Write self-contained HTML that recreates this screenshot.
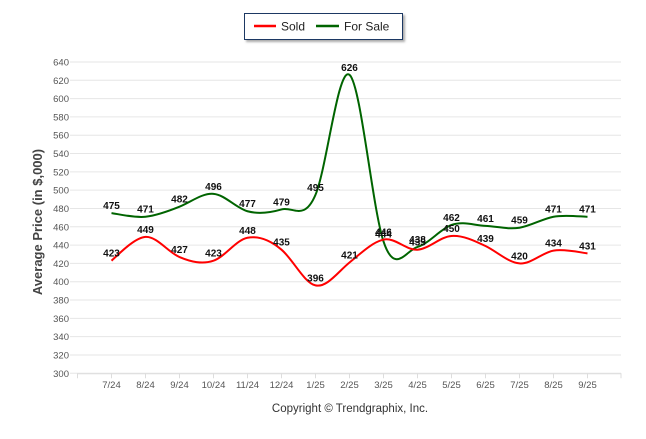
<!DOCTYPE html>
<html><head><meta charset="utf-8"><style>
body{margin:0;background:#fff;font-family:"Liberation Sans",Arial,sans-serif;}
svg text{font-family:"Liberation Sans",Arial,sans-serif;}
</style></head><body>
<svg id="chart" width="646" height="434">
<defs><filter id="sh" x="-10%" y="-10%" width="130%" height="150%"><feDropShadow dx="2" dy="2" stdDeviation="1" flood-color="#888" flood-opacity="0.7"/></filter></defs>
<g>
<rect x="244.5" y="13.5" width="158" height="26" fill="#fff" stroke="#1f3864" stroke-width="1" filter="url(#sh)"/>
<line x1="254" y1="26" x2="276" y2="26" stroke="#ff0000" stroke-width="2.5"/>
<text x="281" y="30.5" font-size="12" fill="#222">Sold</text>
<line x1="316" y1="26" x2="339" y2="26" stroke="#006400" stroke-width="2.5"/>
<text x="344" y="30.5" font-size="12" fill="#222">For Sale</text>
</g>
<text x="0" y="0" transform="translate(42,222) rotate(-90)" text-anchor="middle" font-size="13" font-weight="bold" fill="#444">Average Price (in $,000)</text>
<text x="350" y="412" text-anchor="middle" font-size="11.5" fill="#333">Copyright © Trendgraphix, Inc.</text>
<g id="grid"></g><g id="axes"></g><g id="lines"></g><g id="labels"></g>
</svg>
<script>
const categories=["7/24","8/24","9/24","10/24","11/24","12/24","1/25","2/25","3/25","4/25","5/25","6/25","7/25","8/25","9/25"];
const soldValues=[423,449,427,423,448,435,396,421,446,435,450,439,420,434,431];
const forSaleValues=[475,471,482,496,477,479,495,626,444,438,462,461,459,471,471];
const yTicks=[300,320,340,360,380,400,420,440,460,480,500,520,540,560,580,600,620,640];
const NS="http://www.w3.org/2000/svg";
const left=77.5,right=621,band=34;
const X=i=>left+band*(i+1);
const Y=v=>373.3-(v-300)*(311.3/340);
function mk(tag,attrs,parent){const e=document.createElementNS(NS,tag);for(const k in attrs)e.setAttribute(k,attrs[k]);document.getElementById(parent).appendChild(e);return e;}
yTicks.forEach(t=>{
 const l=mk('line',{x1:70,x2:right,y1:Y(t),y2:Y(t),stroke:'#e6e6e6','stroke-width':1},'grid');
 
 
 const tx=mk('text',{x:69,y:Y(t)+3.5,'text-anchor':'end','font-size':9.5,fill:'#555'},'axes');
 tx.textContent=t;
 
 
});
mk('line',{x1:left,x2:right,y1:Y(300)+0.5,y2:Y(300)+0.5,stroke:'#ddd'},'axes');
for(let i=0;i<=15;i++){mk('line',{x1:left+band*i,x2:left+band*i,y1:Y(300),y2:Y(300)+5,stroke:'#ddd'},'axes');}
mk('line',{x1:right,x2:right,y1:Y(300),y2:Y(300)+5,stroke:'#ddd'},'axes');
categories.forEach((c,i)=>{
 const tx=mk('text',{x:X(i),y:388,'text-anchor':'middle','font-size':9.5,fill:'#555'},'axes');
 tx.textContent=c;
 
 
});
function path(vals){
 const p=vals.map((v,i)=>[X(i),Y(v)]);const t=0.5;let d='M'+p[0][0]+','+p[0][1];
 for(let i=0;i<p.length-1;i++){const p0=p[i-1]||p[i],p1=p[i],p2=p[i+1],p3=p[i+2]||p[i+1];
  const c1=[p1[0]+(p2[0]-p0[0])*t/3,p1[1]+(p2[1]-p0[1])*t/3*1.2];
  const c2=[p2[0]-(p3[0]-p1[0])*t/3,p2[1]-(p3[1]-p1[1])*t/3*1.2];
  d+=` C${c1[0]},${c1[1]} ${c2[0]},${c2[1]} ${p2[0]},${p2[1]}`;}
 return d;}
const fs=mk('path',{d:path(forSaleValues),fill:'none',stroke:'#006400','stroke-width':2},'lines');


const sd=mk('path',{d:path(soldValues),fill:'none',stroke:'#ff0000','stroke-width':2},'lines');


[[forSaleValues,'for-sale-value'],[soldValues,'sold-value']].forEach(([vals,n])=>{
 vals.forEach((v,i)=>{const tx=mk('text',{x:X(i),y:Y(v)-4,'text-anchor':'middle','font-size':10,'font-weight':'bold',fill:'#111'},'labels');
  tx.textContent=v;
  
  });
});
</script>
</body></html>
